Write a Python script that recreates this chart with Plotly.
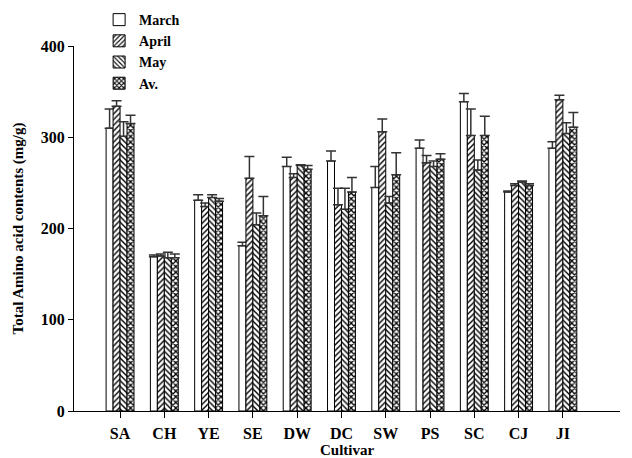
import plotly.graph_objects as go

cultivars = ["SA", "CH", "YE", "SE", "DW", "DC", "SW", "PS", "SC", "CJ", "JI"]
march = [310, 169, 231, 181, 268, 274, 245, 288, 339, 240, 288]
march_err = [21, 2, 6, 4, 10, 11, 23, 9, 9, 1, 7]
april = [334, 170, 224, 255, 256, 226, 306, 272, 302, 247, 341]
april_err = [6, 2, 4, 24, 4, 18, 14, 8, 29, 2, 5]
may = [301, 168, 234, 204, 269, 221, 228, 268, 264, 251, 304]
may_err = [16, 6, 3, 13, 1, 23, 7, 6, 11, 1, 12]
av = [315, 168, 230, 214, 265, 240, 259, 276, 302, 247, 311]
av_err = [9, 4, 3, 21, 4, 16, 24, 6, 21, 2, 16]

series = [
    ("March", march, march_err, "", 0.3),
    ("April", april, april_err, "/", 0.35),
    ("May", may, may_err, "\\", 0.35),
    ("Av.", av, av_err, "x", 0.55),
]

font_family = "Liberation Serif"
fig = go.Figure()
for name, vals, errs, shape, sol in series:
    fig.add_trace(go.Bar(
        name=name, x=cultivars, y=vals,
        marker=dict(
            color="white",
            line=dict(color="black", width=1),
            pattern=dict(shape=shape, fgcolor="black", bgcolor="white",
                         size=4, solidity=sol, fillmode="replace"),
        ),
        error_y=dict(type="data", array=errs, arrayminus=[0] * len(errs),
                     symmetric=False, color="#333333", thickness=1.5, width=5),
    ))

fig.add_annotation(text="<b>Cultivar</b>", xref="paper", yref="paper",
                   x=0.5, y=0, yshift=-39, xanchor="center", yanchor="middle",
                   showarrow=False, font=dict(family=font_family, size=15))

fig.update_layout(
    width=632, height=458,
    margin=dict(l=66, r=20, t=38, b=55, autoexpand=False),
    plot_bgcolor="white", paper_bgcolor="white",
    barmode="group", bargap=0.37, bargroupgap=0,
    font=dict(family=font_family, size=15, color="black"),
    showlegend=True,
    legend=dict(x=0.046, y=1.115, xanchor="left", yanchor="top",
                bgcolor="rgba(0,0,0,0)", tracegroupgap=0, itemwidth=30,
                font=dict(family=font_family, size=14, color="black", weight="bold")),
    xaxis=dict(
        range=[-1.04, 11.29], showline=True, linecolor="black", linewidth=1.2,
        ticks="outside", ticklen=6, tickcolor="black", showgrid=False,
        automargin=False, ticklabelstandoff=2,
        tickfont=dict(family=font_family, size=16, weight="bold"),
    ),
    yaxis=dict(
        range=[0, 400], tickvals=[0, 100, 200, 300, 400], showline=True,
        linecolor="black", linewidth=1.2, ticks="outside", ticklen=5,
        tickcolor="black", showgrid=False, zeroline=False, automargin=False,
        tickfont=dict(family=font_family, size=16, weight="bold"),
        title=dict(text="Total Amino acid contents (mg/g)", standoff=13,
                   font=dict(family=font_family, size=15, weight="bold")),
    ),
)

fig.write_html("out.html")
